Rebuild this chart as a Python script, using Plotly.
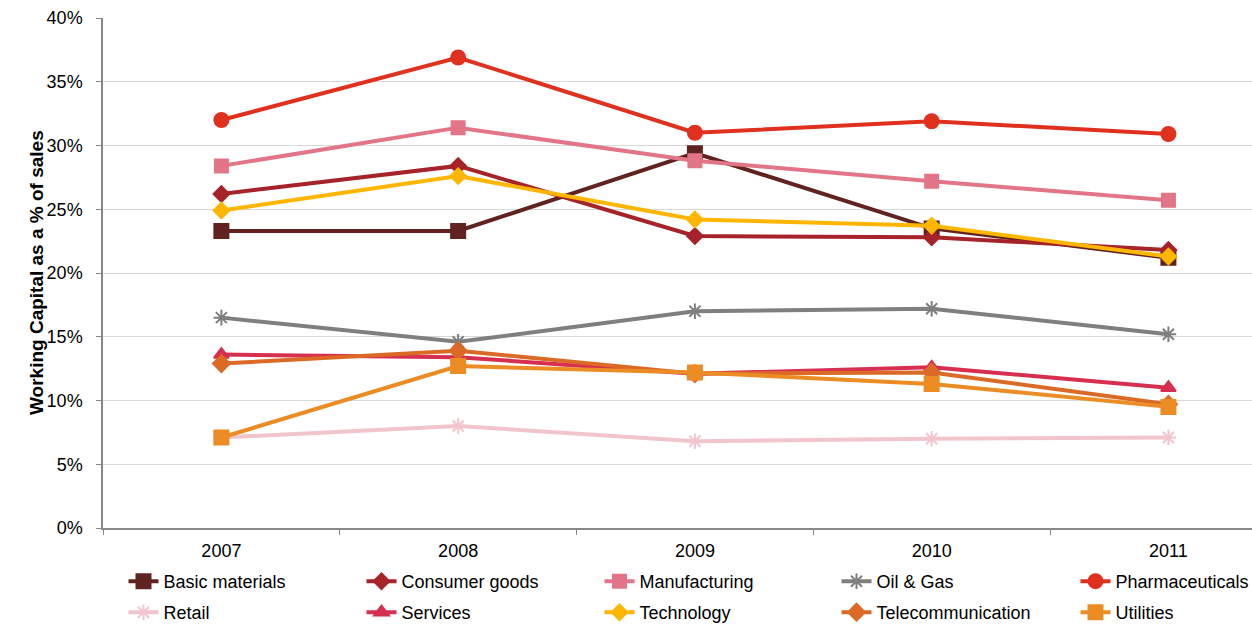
import plotly.graph_objects as go

years = ["2007", "2008", "2009", "2010", "2011"]

basic_materials = [23.3, 23.3, 29.4, 23.5, 21.2]
consumer_goods = [26.2, 28.4, 22.9, 22.8, 21.8]
manufacturing = [28.4, 31.4, 28.8, 27.2, 25.7]
oil_gas = [16.5, 14.6, 17.0, 17.2, 15.2]
pharmaceuticals = [32.0, 36.9, 31.0, 31.9, 30.9]
retail = [7.1, 8.0, 6.8, 7.0, 7.1]
services = [13.6, 13.4, 12.1, 12.6, 11.0]
technology = [24.9, 27.6, 24.2, 23.7, 21.3]
telecommunication = [12.9, 13.9, 12.1, 12.2, 9.7]
utilities = [7.1, 12.7, 12.2, 11.3, 9.5]

series = [
    ("Basic materials", basic_materials, "#602320", "square", 14),
    ("Consumer goods", consumer_goods, "#A6232A", "diamond", 12),
    ("Manufacturing", manufacturing, "#E27588", "square", 13),
    ("Oil & Gas", oil_gas, "#7F7F7F", "asterisk-open", 13),
    ("Pharmaceuticals", pharmaceuticals, "#E0301E", "circle", 14),
    ("Retail", retail, "#F2C4CD", "asterisk-open", 13),
    ("Services", services, "#D72F4F", "triangle-up", 13),
    ("Technology", technology, "#FFB600", "diamond", 12),
    ("Telecommunication", telecommunication, "#DC6A27", "diamond", 13),
    ("Utilities", utilities, "#EB8C24", "square", 14),
]

font = "Liberation Sans, Arial, Helvetica, sans-serif"

# legend grid: 5 columns, 2 rows (text left edge in px, row top in px)
col_text_x = [164, 402, 640, 877, 1116]
row_top_y = [563, 594]

fig = go.Figure()
legends = {}
for i, (name, vals, color, sym, size) in enumerate(series):
    lg = "legend" if i == 0 else f"legend{i + 1}"
    fig.add_trace(go.Scatter(
        x=years, y=vals, name=name, mode="lines+markers",
        line=dict(color=color, width=4),
        marker=dict(symbol=sym, size=size, color=color,
                    line=dict(color=color, width=2)),
        legend=lg,
    ))
    col, row = i % 5, i // 5
    legends[lg] = dict(
        xref="container", yref="container",
        x=(col_text_x[col] - 40.5) / 1252, y=1 - row_top_y[row] / 624,
        xanchor="left", yanchor="top",
        font=dict(size=18, color="#000000", family=font),
        bgcolor="rgba(0,0,0,0)", borderwidth=0,
        itemclick=False, itemdoubleclick=False,
    )

fig.update_layout(
    width=1252, height=624,
    margin=dict(l=103, r=0, t=18, b=96, autoexpand=False),
    paper_bgcolor="white", plot_bgcolor="white",
    font=dict(family=font, size=18, color="#000000"),
    showlegend=True,
    xaxis=dict(
        type="category", range=[-0.5, 4.353],
        tickson="boundaries", ticks="outside", ticklen=5, tickcolor="#888888",
        showline=True, linecolor="#888888", linewidth=1.5,
        showgrid=False, tickfont=dict(size=18), automargin=False,
        ticklabelstandoff=6,
    ),
    yaxis=dict(
        range=[0, 40], dtick=5, ticksuffix="%",
        ticks="outside", ticklen=5, tickcolor="#888888",
        showline=True, linecolor="#888888", linewidth=1.5,
        showgrid=True, gridcolor="#D9D9D9", gridwidth=1,
        zeroline=False, tickfont=dict(size=18), automargin=False,
        ticklabelstandoff=10,
    ),
    annotations=[dict(
        text="<b>Working Capital as a % of sales</b>",
        xref="paper", yref="paper", x=(36 - 103) / 1149, y=0.5,
        xanchor="center", yanchor="middle", textangle=-90,
        showarrow=False, font=dict(size=19, color="#000000", family=font),
    )],
    **legends,
)

fig.write_html("out.html")
